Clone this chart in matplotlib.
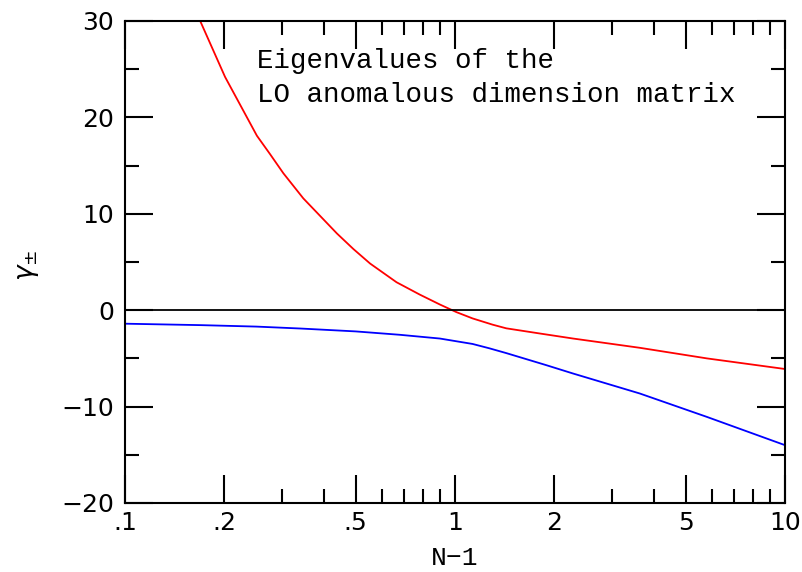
import matplotlib
matplotlib.use("Agg")
import matplotlib.pyplot as plt
from matplotlib.ticker import FixedLocator, FixedFormatter, NullFormatter

# Data
red_x = [0.169, 0.201, 0.251, 0.275, 0.302, 0.347, 0.439, 0.492, 0.553,
         0.665, 0.782, 0.900, 1.01, 1.13, 1.30, 1.43, 1.81, 2.28,
         3.63, 5.80, 10.0]
red_y = [30.0, 24.2, 18.1, 16.2, 14.2, 11.6, 7.95, 6.35, 4.84,
         2.9, 1.62, 0.59, -0.2, -0.85, -1.5, -1.88, -2.42, -2.94,
         -3.9, -5.0, -6.1]

blue_x = [0.1, 0.17, 0.25, 0.34, 0.5, 0.68, 0.9, 1.13, 1.27, 1.43, 1.89, 2.28, 3.63, 5.8, 10.0]
blue_y = [-1.4, -1.55, -1.7, -1.9, -2.2, -2.55, -2.94, -3.5, -3.95, -4.45, -5.7, -6.57, -8.64, -11.07, -14.0]

xmajor = [0.1, 0.2, 0.5, 1, 2, 5, 10]
xmajor_labels = [".1", ".2", ".5", "1", "2", "5", "10"]
xminor = [0.3, 0.4, 0.6, 0.7, 0.8, 0.9, 3, 4, 6, 7, 8, 9]
ymajor = [-20, -10, 0, 10, 20, 30]
ymajor_labels = ["\u221220", "\u221210", "0", "10", "20", "30"]
yminor = [-15, -5, 5, 15, 25]

fig = plt.figure(figsize=(8.03, 5.72), dpi=100)
ax = fig.add_axes([125/803, 69/572, 660/803, 482/572])

ax.plot(red_x, red_y, color="red", lw=1.3)
ax.plot(blue_x, blue_y, color="blue", lw=1.3)
ax.axhline(0, color="black", lw=1.3)

ax.set_xscale("log")
ax.set_xlim(0.1, 10)
ax.set_ylim(-20, 30)

ax.xaxis.set_major_locator(FixedLocator(xmajor))
ax.xaxis.set_major_formatter(FixedFormatter(xmajor_labels))
ax.xaxis.set_minor_locator(FixedLocator(xminor))
ax.xaxis.set_minor_formatter(NullFormatter())
ax.yaxis.set_major_locator(FixedLocator(ymajor))
ax.yaxis.set_major_formatter(FixedFormatter(ymajor_labels))
ax.yaxis.set_minor_locator(FixedLocator(yminor))

for sp in ax.spines.values():
    sp.set_linewidth(1.5)

ax.tick_params(which="both", direction="in", top=True, right=True, width=1.5)
ax.tick_params(which="major", length=20, labelsize=18)
ax.tick_params(which="minor", length=10)
ax.tick_params(axis="x", which="major", pad=6)
ax.tick_params(axis="y", which="major", pad=8)
for lab in ax.get_xticklabels() + ax.get_yticklabels():
    lab.set_family("DejaVu Sans")

ax.set_xlabel("N\u22121", fontsize=19, family="Liberation Mono")
ax.xaxis.set_label_coords(0.5, -0.114)
ax.xaxis.label.set_va("center")
ax.set_ylabel(r"$\gamma_{\pm}$", fontsize=19)
ax.yaxis.set_label_coords(-0.147, 0.494)
ax.yaxis.label.set_va("center")

ax.text(0.2, 0.9025, "Eigenvalues of the", transform=ax.transAxes,
        fontsize=19.8, family="Liberation Mono", va="baseline", ha="left")
ax.text(0.2, 0.832, "LO anomalous dimension matrix", transform=ax.transAxes,
        fontsize=19.8, family="Liberation Mono", va="baseline", ha="left")

fig.savefig("out.png", dpi=100)
